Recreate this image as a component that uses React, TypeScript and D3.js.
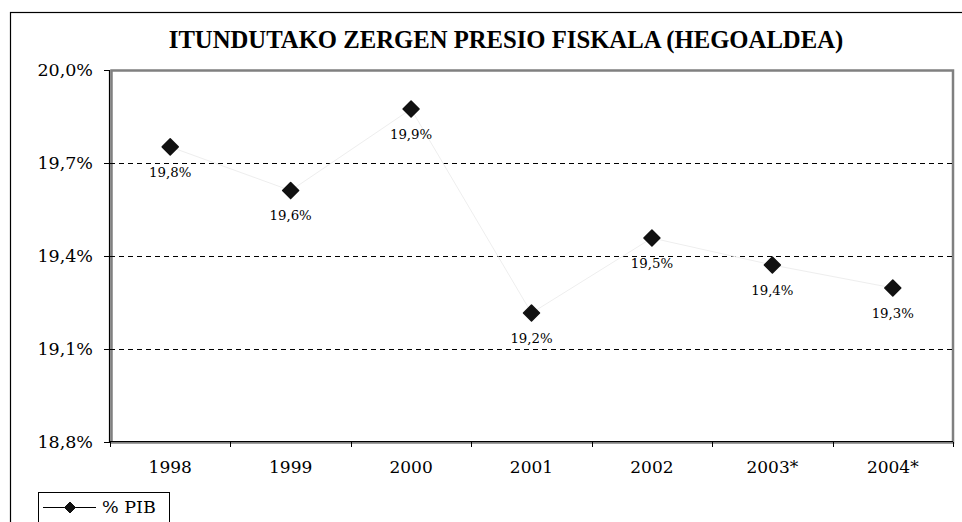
import React from "react";
import * as d3 from "d3";

const categories = ["1998", "1999", "2000", "2001", "2002", "2003*", "2004*"];
const values = [19.752, 19.611, 19.874, 19.216, 19.458, 19.371, 19.297];
const labels = ["19,8%", "19,6%", "19,9%", "19,2%", "19,5%", "19,4%", "19,3%"];
const yTicks = [18.8, 19.1, 19.4, 19.7, 20.0];
const gridTicks = [19.1, 19.4, 19.7];
const title = "ITUNDUTAKO ZERGEN PRESIO FISKALA (HEGOALDEA)";
const seriesName = "% PIB";

const W = 962;
const H = 522;
const left = 110;
const right = 953;
const top = 70;
const bottom = 442;
const serif = "'DejaVu Serif', serif";

function diamond(cx: number, cy: number, r: number) {
  return `M${cx},${cy - r}L${cx + r},${cy}L${cx},${cy + r}L${cx - r},${cy}Z`;
}

export default function App() {
  const x = d3.scaleBand<string>().domain(categories).range([left, right]);
  const y = d3.scaleLinear().domain([18.8, 20.0]).range([bottom, top]);
  const cx = (c: string) => (x(c) ?? 0) + x.bandwidth() / 2;
  const line = d3
    .line<number>()
    .x((_, i) => cx(categories[i]))
    .y((v) => y(v));
  const fmt = (v: number) => v.toFixed(1).replace(".", ",") + "%";
  const xEdges = categories.map((c) => x(c) ?? 0).concat([right]);

  return (
    <svg
      width={W}
      height={H}
      style={{ position: "absolute", left: 0, top: 0, background: "#fff" }}
    >
      <rect x={0} y={0} width={W} height={H} fill="#fff" />
      {/* outer frame */}
      <rect x={10.5} y={12.5} width={960} height={530} fill="none" stroke="#000" strokeWidth={1.2} />
      {/* title */}
      <text
        x={506}
        y={48}
        textAnchor="middle"
        fontFamily="'Liberation Serif', 'Times New Roman', serif"
        fontWeight="bold"
        fontSize={24.7}
        fill="#000"
      >
        {title}
      </text>
      {/* plot area border (grey) */}
      <rect
        x={left + 1.5}
        y={top + 0.5}
        width={right - left - 1.5}
        height={bottom - top}
        fill="#fff"
        stroke="#808080"
        strokeWidth={2.5}
      />
      {/* gridlines */}
      {gridTicks.map((t) => (
        <line
          key={"g" + t}
          x1={left}
          x2={right - 1}
          y1={Math.round(y(t)) + 0.5}
          y2={Math.round(y(t)) + 0.5}
          stroke="#000"
          strokeWidth={1}
          strokeDasharray="5,4"
        />
      ))}
      {/* axes */}
      <line x1={left - 0.5} x2={left - 0.5} y1={top} y2={bottom} stroke="#000" strokeWidth={1.2} />
      <line x1={left} x2={right} y1={bottom - 0.5} y2={bottom - 0.5} stroke="#000" strokeWidth={1.2} />
      {yTicks.map((t) => (
        <g key={"y" + t}>
          <line x1={left - 6} x2={left} y1={Math.round(y(t)) + 0.5} y2={Math.round(y(t)) + 0.5} stroke="#000" strokeWidth={1} />
          <text
            x={93}
            y={y(t)}
            dy="0.36em"
            textAnchor="end"
            fontFamily={serif}
            fontSize={17.5}
            fill="#000"
          >
            {fmt(t)}
          </text>
        </g>
      ))}
      {xEdges.map((e, i) => (
        <line key={"xt" + i} x1={Math.round(e) + 0.5} x2={Math.round(e) + 0.5} y1={bottom} y2={bottom + 5} stroke="#000" strokeWidth={1} />
      ))}
      {categories.map((c) => (
        <text
          key={"xl" + c}
          x={cx(c)}
          y={473}
          textAnchor="middle"
          fontFamily={serif}
          fontSize={17}
          fill="#000"
        >
          {c}
        </text>
      ))}
      {/* series line */}
      <path d={line(values) ?? ""} fill="none" stroke="#eeeeee" strokeWidth={1} />
      {values.map((v, i) => (
        <g key={"p" + i}>
          <path
            d={diamond(cx(categories[i]), y(v), 8)}
            fill="#111"
            stroke="#111"
            strokeWidth={1.5}
            strokeLinejoin="round"
          />
          <text
            x={cx(categories[i])}
            y={y(v) + 25}
            dy="0.36em"
            textAnchor="middle"
            fontFamily={serif}
            fontSize={13.3}
            fill="#000"
          >
            {labels[i]}
          </text>
        </g>
      ))}
      {/* legend */}
      <rect x={38.5} y={492.5} width={131} height={40} fill="#fff" stroke="#000" strokeWidth={1} />
      <line x1={43} x2={96} y1={507.5} y2={507.5} stroke="#000" strokeWidth={1} />
      <path d={diamond(70, 507.5, 5.5)} fill="#111" stroke="#111" strokeWidth={1} strokeLinejoin="round" />
      <text x={102} y={513} fontFamily={serif} fontSize={17.5} fill="#000" style={{ whiteSpace: "pre" }}>
        {seriesName}
      </text>
    </svg>
  );
}
